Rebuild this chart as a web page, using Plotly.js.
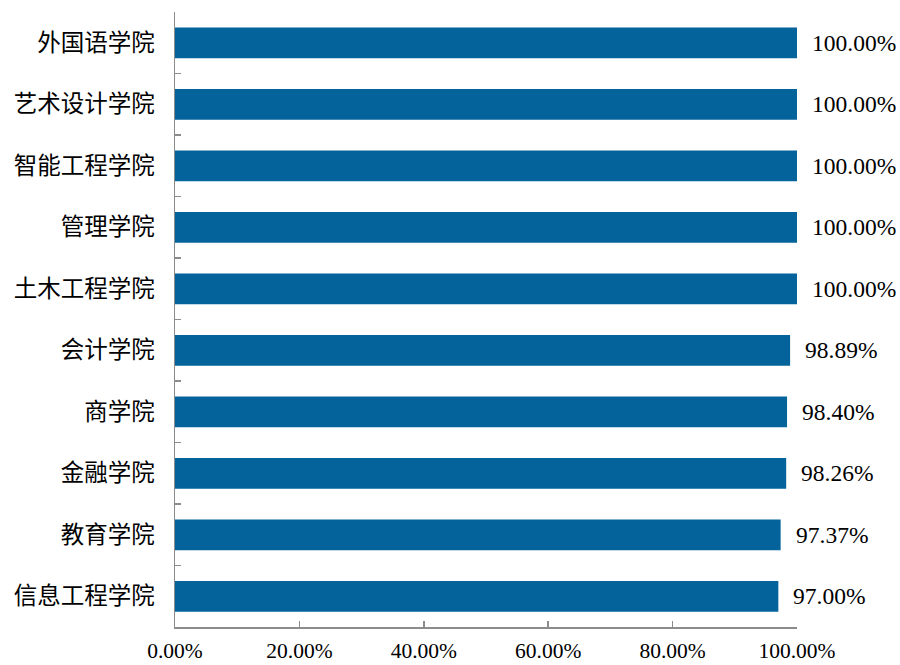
<!DOCTYPE html>
<html>
<head>
<meta charset="utf-8">
<script src="https://cdn.plot.ly/plotly-3.0.1.min.js"></script>
<style>html,body{margin:0;padding:0;background:#fff;}#chart{width:900px;height:665px;}</style>
</head>
<body>
<div id="chart"></div>
<script>
const categories = ["外国语学院","艺术设计学院","智能工程学院","管理学院","土木工程学院","会计学院","商学院","金融学院","教育学院","信息工程学院"];
const rates = [100, 100, 100, 100, 100, 98.89, 98.40, 98.26, 97.37, 97.00];
const xTicks = [0, 20, 40, 60, 80, 100];
const xTickText = ["0.00%","20.00%","40.00%","60.00%","80.00%","100.00%"];

const serif = "Liberation Serif, Times New Roman, serif";
const cjk = "Noto Sans CJK SC, sans-serif";
const axisColor = "#8c8c8c";

const trace = {
  type: "bar",
  orientation: "h",
  x: rates,
  y: categories,
  marker: {color: "#05639b"},
  hoverinfo: "skip"
};

const annotations = rates.map((v, i) => ({
  x: v, y: categories[i], xref: "x", yref: "y",
  text: v.toFixed(2) + "%",
  showarrow: false, xanchor: "left", yanchor: "middle",
  xshift: 13,
  font: {family: serif, size: 23.5, color: "#000"}
}));

const layout = {
  width: 900, height: 665,
  margin: {l: 175, r: 103, t: 12, b: 38},
  paper_bgcolor: "#fff", plot_bgcolor: "#fff",
  showlegend: false,
  bargap: 0.5,
  xaxis: {
    range: [0, 100], fixedrange: true,
    tickvals: xTicks, ticktext: xTickText,
    showgrid: false, zeroline: false,
    showline: true, linecolor: axisColor, linewidth: 1.5,
    ticks: "inside", ticklen: 6, tickcolor: axisColor, tickwidth: 1.5,
    ticklabelstandoff: 4,
    tickfont: {family: serif, size: 21.5, color: "#000"}
  },
  yaxis: {
    type: "category", autorange: "reversed",
    tickson: "boundaries",
    showgrid: false, zeroline: false,
    showline: true, linecolor: axisColor, linewidth: 1.5,
    ticks: "inside", ticklen: 6, tickcolor: axisColor, tickwidth: 1.5,
    ticklabelstandoff: 14,
    tickfont: {family: cjk, size: 23.5, color: "#000"}
  },
  annotations: annotations
};

Plotly.newPlot("chart", [trace], layout, {displayModeBar: false, staticPlot: true});
</script>
</body>
</html>
